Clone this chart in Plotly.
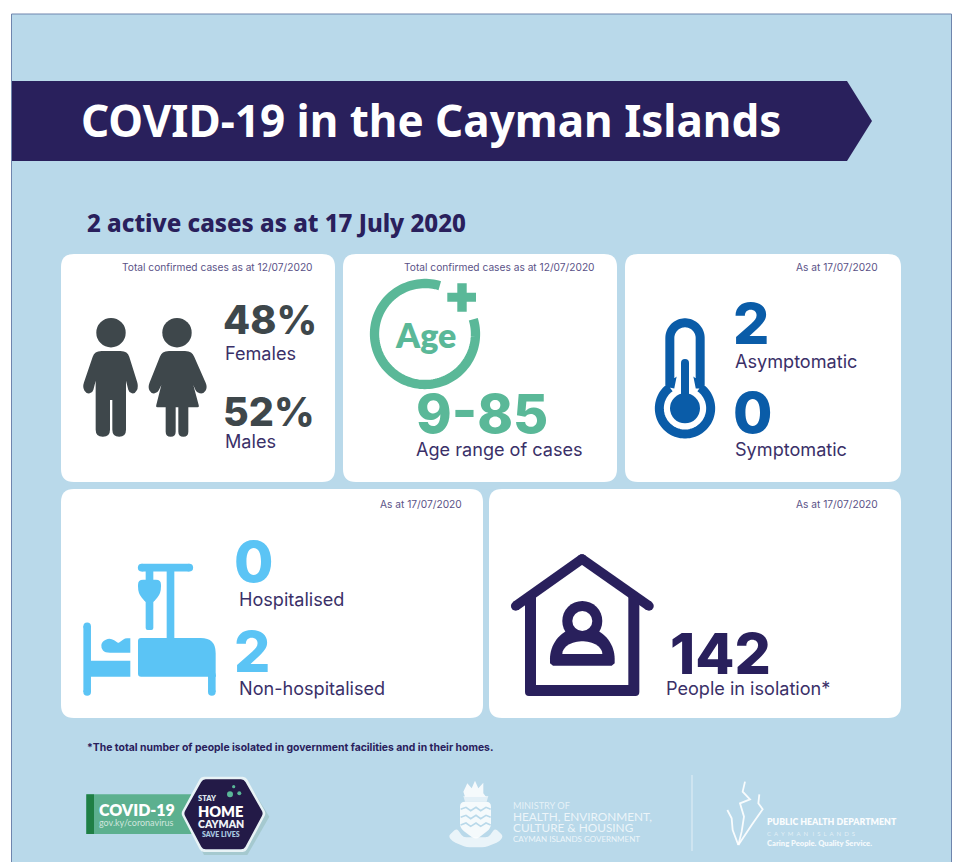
import numpy as np
import plotly.graph_objects as go

# Figures shown on the cards
female_pct = 48
male_pct = 52
age_min = 9
age_max = 85
asymptomatic = 2
symptomatic = 0
hospitalised = 0
non_hospitalised = 2
in_isolation = 142
active_cases = 2
report_date = "17 July 2020"
confirmed_note = "Total confirmed cases as at 12/07/2020"
status_note = "As at 17/07/2020"

NAVY = "#29205c"
SKY = "#b9d9ea"
SLATE = "#3e474b"
GREEN = "#5ab898"
BLUE = "#0a5ca8"
CYAN = "#5bc4f5"
LABEL = "#3a3068"
NOTE = "#5a5287"
BODY_FONT = "Inter"
HEAD_FONT = "Noto Sans"
LOGO_FONT = "Lato"
LABEL_SIZE = 18.1
NOTE_SIZE = 10.2

shapes = []
notes = []


def add_path(d, fill=None, line=None, width=0):
    shapes.append(dict(type="path", path=d, xref="x", yref="y",
                       fillcolor=fill if fill else "rgba(0,0,0,0)",
                       line=dict(color=line if line else "rgba(0,0,0,0)", width=width)))


def poly_path(pts, radii=0):
    """Closed polygon whose corners are rounded with quadratic curves."""
    pts = np.asarray(pts, float)
    n = len(pts)
    radii = np.full(n, radii, float) if np.isscalar(radii) else np.asarray(radii, float)
    d = []
    for i in range(n):
        p, a, b = pts[i], pts[i - 1], pts[(i + 1) % n]
        r = radii[i]
        if r <= 0:
            d.append(f"{'M' if i == 0 else 'L'}{p[0]:.2f},{p[1]:.2f}")
            continue
        u = (a - p) / np.linalg.norm(a - p)
        v = (b - p) / np.linalg.norm(b - p)
        s = p + u * min(r, np.linalg.norm(a - p) / 2)
        e = p + v * min(r, np.linalg.norm(b - p) / 2)
        d.append(f"{'M' if i == 0 else 'L'}{s[0]:.2f},{s[1]:.2f}Q{p[0]:.2f},{p[1]:.2f} {e[0]:.2f},{e[1]:.2f}")
    return "".join(d) + "Z"


def polygon(pts, fill, radii=0):
    add_path(poly_path(pts, radii), fill=fill)


def circle(cx, cy, r, fill):
    shapes.append(dict(type="circle", xref="x", yref="y", x0=cx - r, x1=cx + r,
                       y0=cy - r, y1=cy + r, fillcolor=fill, line=dict(width=0)))


def capsule(x0, y0, x1, y1, w, color):
    """Straight stroke with round ends."""
    dx, dy = x1 - x0, y1 - y0
    length = np.hypot(dx, dy)
    nx, ny = -dy / length * w / 2, dx / length * w / 2
    add_path(f"M{x0 + nx:.2f},{y0 + ny:.2f}L{x1 + nx:.2f},{y1 + ny:.2f}L{x1 - nx:.2f},{y1 - ny:.2f}L{x0 - nx:.2f},{y0 - ny:.2f}Z",
             fill=color)
    circle(x0, y0, w / 2, color)
    circle(x1, y1, w / 2, color)


def polyline(pts, color, width):
    d = "M" + "L".join(f"{x:.2f},{y:.2f}" for x, y in pts)
    add_path(d, line=color, width=width)


def arc_pts(cx, cy, r, a0, a1, n=60):
    t = np.radians(np.linspace(a0, a1, n))
    return list(zip(cx + r * np.cos(t), cy + r * np.sin(t)))


def label(x, y, text, size, color, anchor="left", weight=400, font=BODY_FONT):
    notes.append(dict(x=x, y=y, xref="x", yref="y", text=text, showarrow=False,
                      xanchor=anchor, yanchor="middle", borderpad=0, borderwidth=0,
                      font=dict(family=font, size=size, color=color, weight=weight)))


def card(x0, y0, x1, y1):
    polygon([(x0, y0), (x1, y0), (x1, y1), (x0, y1)], "white", 13)


def crop(ox, oy, pts):
    """Icon outlines are authored at triple scale around a local origin."""
    return [(ox + x / 3, oy + y / 3) for x, y in pts]


# Page panel and banner
polygon([(11.5, 14), (951.5, 14), (951.5, 870), (11.5, 870)], SKY)
polyline([(11.5, 870), (11.5, 14), (951.5, 14), (951.5, 870)], "#6f85ad", 1)
polygon([(12, 81), (847, 81), (872, 121), (847, 161), (12, 161)], NAVY)
label(81, 120, "COVID-19 in the Cayman Islands", 44, "white", weight=700, font=HEAD_FONT)
label(87, 222.5, f"{active_cases} active cases as at {report_date}", 24, NAVY, weight=800, font=HEAD_FONT)

# Cards
card(61, 254, 335, 482)
card(343, 254, 617, 482)
card(625, 254, 901, 482)
card(61, 489, 483, 718)
card(489, 489, 901, 718)
label(313, 267, confirmed_note, NOTE_SIZE, NOTE, "right")
label(595, 267, confirmed_note, NOTE_SIZE, NOTE, "right")
label(878, 267, status_note, NOTE_SIZE, NOTE, "right")
label(462, 504, status_note, NOTE_SIZE, NOTE, "right")
label(878, 504, status_note, NOTE_SIZE, NOTE, "right")

# Gender card
O1 = (55, 250)
circle(111, 332.7, 14.7, SLATE)
circle(177, 332.7, 14.7, SLATE)
polygon(crop(*O1, [(128, 303), (208, 303), (220, 312), (251, 410), (240, 432), (222, 428), (213, 392),
                   (213, 560), (172, 560), (172, 450), (165, 450), (165, 560), (122, 560), (122, 392),
                   (113, 428), (95, 432), (82, 412), (116, 312)]),
        SLATE, [4, 4, 3, 5, 5, 3, 0, 7, 7, 0, 0, 7, 7, 0, 3, 5, 5, 3])
polygon(crop(*O1, [(330, 303), (402, 303), (414, 312), (458, 412), (445, 432), (425, 428), (415, 405),
                   (433, 472), (400, 472), (400, 560), (370, 560), (370, 472), (362, 472), (362, 560),
                   (332, 560), (332, 472), (302, 472), (319, 405), (308, 428), (290, 432), (278, 412), (318, 312)]),
        SLATE, [4, 4, 3, 5, 5, 3, 0, 2, 0, 5, 5, 0, 0, 5, 5, 0, 2, 0, 3, 5, 5, 3])
label(223, 320, f"{female_pct}%", 39.5, SLATE, weight=800)
label(225, 353, "Females", LABEL_SIZE, LABEL)
label(223, 412, f"{male_pct}%", 39.5, SLATE, weight=800)
label(225, 441, "Males", LABEL_SIZE, LABEL)

# Age card
polyline(arc_pts(425, 334, 50.5, -73, -377 + 0, 120), GREEN, 9.3)
polygon([(447.3, 292.7), (457.3, 292.7), (457.3, 283.3), (466.7, 283.3), (466.7, 292.7), (476, 292.7),
         (476, 301.7), (466.7, 301.7), (466.7, 311.7), (457.3, 311.7), (457.3, 301.7), (447.3, 301.7)], GREEN)
label(425, 334, "Age", 34, GREEN, "center", 800, LOGO_FONT)
label(416, 413, f"{age_min}-{age_max}", 54, GREEN, weight=800)
label(416, 449, "Age range of cases", LABEL_SIZE, LABEL)

# Thermometer card
O2 = (625, 250)
tube = [(134.5, 413), (134.5, 264)] + arc_pts(180, 264, 45.5, 180, 360, 40) + [(225.5, 413)] \
    + arc_pts(180, 475, 77, -53.8, 233.8, 80) + [(134.5, 413)]
polyline(crop(*O2, tube), BLUE, 9)
capsule(685, 363, 685, 405, 8, BLUE)
circle(685, 408.3, 15, BLUE)
label(733, 323, str(asymptomatic), 57, BLUE, weight=800)
label(735, 361, "Asymptomatic", LABEL_SIZE, LABEL)
label(733, 412, str(symptomatic), 57, BLUE, weight=800)
label(735, 449, "Symptomatic", LABEL_SIZE, LABEL)

# Hospital bed card
O3 = (55, 485)
a, b = crop(*O3, [(260, 248), (403, 248)])
capsule(*a, *b, 7.6, CYAN)
polygon(crop(*O3, [(335, 248), (358, 248), (358, 470), (335, 470)]), CYAN)
polygon(crop(*O3, [(272, 255), (295, 255), (295, 290), (272, 290)]), CYAN)
polygon(crop(*O3, [(249, 284), (318, 284), (318, 325), (295, 352), (272, 352), (249, 325)]), CYAN, [5, 5, 8, 2, 2, 8])
polygon(crop(*O3, [(272, 340), (295, 340), (295, 435), (272, 435)]), CYAN, [0, 0, 2, 2])
a, b = crop(*O3, [(96.5, 424), (96.5, 621)])
capsule(*a, *b, 7.6, CYAN)
polygon(crop(*O3, [(140, 470), (165, 458), (190, 474), (210, 460), (226, 460), (226, 503), (150, 503), (138, 490)]),
        CYAN, [5, 7, 1, 2, 0, 0, 5, 5])
polygon(crop(*O3, [(105, 527), (226, 527), (226, 575), (105, 575)]), CYAN)
polygon(crop(*O3, [(249, 459), (482, 459), (482, 575), (249, 575)]), CYAN, [3, 15, 0, 3])
a, b = crop(*O3, [(470.5, 570), (470.5, 621)])
capsule(*a, *b, 7.6, CYAN)
label(234, 561, str(hospitalised), 57, CYAN, weight=800)
label(239, 599, "Hospitalised", LABEL_SIZE, LABEL)
label(234, 651, str(non_hospitalised), 57, CYAN, weight=800)
label(239, 687.5, "Non-hospitalised", LABEL_SIZE, LABEL)

# Home isolation card
O4 = (485, 485)
r0, r1, r2 = crop(*O4, [(92, 363), (291, 222), (492, 363)])
capsule(*r0, *r1, 9.5, NAVY)
capsule(*r1, *r2, 9.5, NAVY)
polygon(crop(*O4, [(120, 345), (153, 325), (153, 600), (430, 600), (430, 325), (463, 345), (463, 633), (120, 633)]),
        NAVY, [0, 0, 0, 0, 0, 0, 4, 4])
circle(582.3, 621, 20, NAVY)
add_path("M" + "L".join(f"{x:.2f},{y:.2f}" for x, y in crop(*O4, [(195, 535), (195, 520)] + arc_pts(292, 522, 97, 180, 360, 40)[1:] + [(389, 535), (380, 542), (204, 542)])) + "Z",
         fill=NAVY)
circle(582.3, 621, 10, "white")
add_path("M" + "L".join(f"{x:.2f},{y:.2f}" for x, y in crop(*O4, [(232, 507)] + [(292 + 60 * np.cos(t), 507 - 38 * np.sin(t)) for t in np.linspace(np.pi, 0, 30)][1:])) + "Z",
         fill="white")
label(670, 653, str(in_isolation), 57, NAVY, weight=800)
label(666, 687.5, "People in isolation*", LABEL_SIZE, LABEL)

label(87, 747, "*The total number of people isolated in government facilities and in their homes.",
      10.4, NAVY, weight=700)

# Campaign badge
O5 = (60, 735)
polygon(crop(*O5, [(79, 178), (395, 178), (395, 297), (79, 297)]), "#5cb08f")
polygon(crop(*O5, [(79, 178), (102, 178), (102, 297), (79, 297)]), "#1f7f45")
label(99, 809, "COVID-19", 16, "white", weight=800, font=LOGO_FONT)
label(99, 822, "gov.ky/coronavirus", 9, "#cfe5dd", font=LOGO_FONT)
polygon(crop(*O5, [(372, 245), (432, 138), (562, 138), (628, 245), (562, 360), (432, 360)]), "#a5c9cf")
polygon(crop(*O5, [(363, 235), (423, 125), (557, 125), (618, 235), (557, 351), (423, 351)]), "#e8f3f6", 3)
polygon(crop(*O5, [(371, 235), (428, 133), (552, 133), (610, 235), (552, 343), (428, 343)]), "#231a47", 3)
circle(230, 794.3, 3, GREEN)
circle(239.3, 793.3, 2, GREEN)
circle(233.7, 786.7, 1.6, GREEN)
label(198, 798, "STAY", 7.5, "#dfe6ee", weight=800, font=LOGO_FONT)
label(197.5, 811, "HOME", 14.5, "white", weight=800, font=LOGO_FONT)
label(198, 823.5, "CAYMAN", 10.5, "#eef2f6", weight=800, font=LOGO_FONT)
label(202, 833.5, "SAVE LIVES", 7, "#a9c8e0", weight=800, font=LOGO_FONT)

# Ministry crest and wordmark
WHITE_SOFT = "rgba(255,255,255,0.85)"
O6 = (430, 760)
polygon(crop(*O6, [(90, 125), (183, 125), (183, 205), (137, 240), (90, 205)]), WHITE_SOFT, 5)
for y in (148, 172, 195):
    polyline(crop(*O6, [(92, y), (108, y - 6), (122, y + 4), (138, y - 6), (152, y + 4), (168, y - 6), (182, y)]), SKY, 1.6)
polygon(crop(*O6, [(112, 70), (125, 85), (135, 62), (145, 85), (160, 68), (160, 100), (168, 110), (105, 110), (100, 95)]), WHITE_SOFT)
polygon(crop(*O6, [(100, 108), (175, 108), (170, 125), (105, 125)]), "rgba(255,255,255,0.6)")
polygon(crop(*O6, [(55, 228), (80, 205), (100, 232), (175, 232), (195, 205), (220, 228), (208, 245), (165, 262), (110, 262), (68, 245)]),
        "rgba(255,255,255,0.7)", 3)
label(513, 805, "MINISTRY OF", 9.2, "rgba(255,255,255,0.65)", font=LOGO_FONT)
label(513, 816.5, "HEALTH, ENVIRONMENT,", 11.8, "rgba(255,255,255,0.75)", font=LOGO_FONT)
label(513, 827.8, "CULTURE &amp; HOUSING", 11.8, "rgba(255,255,255,0.75)", font=LOGO_FONT)
label(513, 839, "CAYMAN ISLANDS GOVERNMENT", 8, "rgba(255,255,255,0.75)", font=LOGO_FONT)
polyline([(692, 775), (692, 851)], "rgba(255,255,255,0.4)", 1.5)

# Public health wordmark
polyline(crop(*O6, [(925, 255), (935, 215), (942, 170), (930, 130), (960, 118), (938, 95), (945, 65)]), "rgba(255,255,255,0.9)", 1.8)
polyline(crop(*O6, [(925, 255), (965, 195), (998, 148), (985, 130), (988, 103)]), "rgba(255,255,255,0.9)", 1.8)
polyline(crop(*O6, [(925, 255), (908, 210), (905, 175), (892, 150)]), "rgba(255,255,255,0.9)", 1.8)
label(767, 821, "PUBLIC HEALTH DEPARTMENT", 8.8, "rgba(255,255,255,0.95)", weight=800, font=LOGO_FONT)
label(767, 833, "\u2002".join("CAYMAN") + "\u2003" + "\u2002".join("ISLANDS"), 6, "rgba(255,255,255,0.6)", font=LOGO_FONT)
label(767, 843, "Caring People. Quality Service.", 7.6, "rgba(255,255,255,0.85)", weight=800, font=LOGO_FONT)

fig = go.Figure()
fig.update_layout(
    width=977, height=862, margin=dict(l=0, r=0, t=0, b=0),
    paper_bgcolor="white", plot_bgcolor="white", showlegend=False,
    xaxis=dict(range=[0, 977], visible=False, fixedrange=True),
    yaxis=dict(range=[862, 0], visible=False, fixedrange=True),
    shapes=shapes, annotations=notes,
)
fig.write_html("out.html", config=dict(displayModeBar=False))
